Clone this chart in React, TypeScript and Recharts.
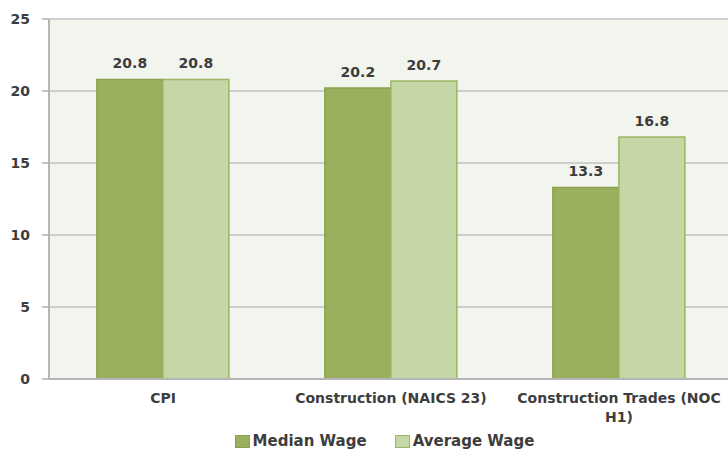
import React from "react";
import {
  BarChart,
  Bar,
  XAxis,
  YAxis,
  CartesianGrid,
  Legend,
  LabelList,
} from "recharts";

const categories = ["CPI", "Construction (NAICS 23)", "Construction Trades (NOC H1)"];
const medianWage = [20.8, 20.2, 13.3];
const averageWage = [20.8, 20.7, 16.8];
const yTicks = [0, 5, 10, 15, 20, 25];

const FONT = "'DejaVu Sans', sans-serif";
const TEXT = "#3d3d3d";
const MEDIAN_FILL = "#9bb05c";
const MEDIAN_STROKE = "#8aa04c";
const AVERAGE_FILL = "#c6d7a7";
const AVERAGE_STROKE = "#9db562";

const data = categories.map((name, i) => ({
  name,
  median: medianWage[i],
  average: averageWage[i],
}));

// split long category names onto two lines, like the original
function wrapLabel(label: string): string[] {
  if (label.length <= 24) return [label];
  const cut = label.lastIndexOf(" ");
  return [label.slice(0, cut), label.slice(cut + 1)];
}

function CategoryTick(props: any) {
  const { x, y, payload } = props;
  const lines = wrapLabel(String(payload.value));
  return (
    <text
      x={x}
      y={y}
      textAnchor="middle"
      fill={TEXT}
      fontFamily={FONT}
      fontWeight="bold"
      fontSize={14}
    >
      {lines.map((line, i) => (
        <tspan key={i} x={x} dy={i === 0 ? 16 : 19}>
          {line}
        </tspan>
      ))}
    </text>
  );
}

function LegendContent() {
  const items = [
    { label: "Median Wage", fill: MEDIAN_FILL, stroke: MEDIAN_STROKE },
    { label: "Average Wage", fill: AVERAGE_FILL, stroke: AVERAGE_STROKE },
  ];
  return (
    <div
      style={{
        display: "flex",
        justifyContent: "center",
        paddingLeft: 36,
        paddingTop: 3,
        gap: 28,
        fontFamily: FONT,
        fontWeight: "bold",
        fontSize: 15,
        lineHeight: "18px",
        color: TEXT,
      }}
    >
      {items.map((it) => (
        <div key={it.label} style={{ display: "flex", alignItems: "center" }}>
          <span
            style={{
              display: "inline-block",
              width: 13,
              height: 11,
              background: it.fill,
              border: `1px solid ${it.stroke}`,
              marginRight: 3,
            }}
          />
          {it.label}
        </div>
      ))}
    </div>
  );
}

export default function App() {
  return (
    <div
      style={{
        position: "absolute",
        left: 0,
        top: 0,
        width: 728,
        height: 453,
        overflow: "hidden",
        background: "#ffffff",
      }}
    >
      <BarChart
        width={740}
        height={453}
        data={data}
        margin={{ top: 19, right: 7, left: 0, bottom: 0 }}
        barCategoryGap="21%"
        barGap={0}
      >
        <CartesianGrid
          vertical={false}
          stroke="#c2c2c2"
          strokeWidth={1.5}
          fill="#f2f4ee"
          fillOpacity={1}
        />
        <XAxis
          dataKey="name"
          height={50}
          axisLine={{ stroke: "#b5b5b5", strokeWidth: 2 }}
          tickLine={false}
          tick={<CategoryTick />}
          interval={0}
        />
        <YAxis
          width={49}
          domain={[0, 25]}
          ticks={yTicks}
          interval={0}
          axisLine={{ stroke: "#b5b5b5", strokeWidth: 2 }}
          tickLine={{ stroke: "#b5b5b5", strokeWidth: 1.5 }}
          tickSize={7}
          tickMargin={12}
          tick={{ fill: TEXT, fontFamily: FONT, fontWeight: "bold", fontSize: 14 }}
        />
        <Legend
          verticalAlign="bottom"
          height={24}
          content={<LegendContent />}
        />
        <Bar
          dataKey="median"
          name="Median Wage"
          fill={MEDIAN_FILL}
          stroke={MEDIAN_STROKE}
          strokeWidth={1.5}
          isAnimationActive={false}
        >
          <LabelList
            dataKey="median"
            position="top"
            offset={11}
            fill={TEXT}
            fontFamily={FONT}
            fontWeight="bold"
            fontSize={14}
            formatter={(v: any) => Number(v).toFixed(1)}
          />
        </Bar>
        <Bar
          dataKey="average"
          name="Average Wage"
          fill={AVERAGE_FILL}
          stroke={AVERAGE_STROKE}
          strokeWidth={1.5}
          isAnimationActive={false}
        >
          <LabelList
            dataKey="average"
            position="top"
            offset={11}
            fill={TEXT}
            fontFamily={FONT}
            fontWeight="bold"
            fontSize={14}
            formatter={(v: any) => Number(v).toFixed(1)}
          />
        </Bar>
      </BarChart>
    </div>
  );
}
